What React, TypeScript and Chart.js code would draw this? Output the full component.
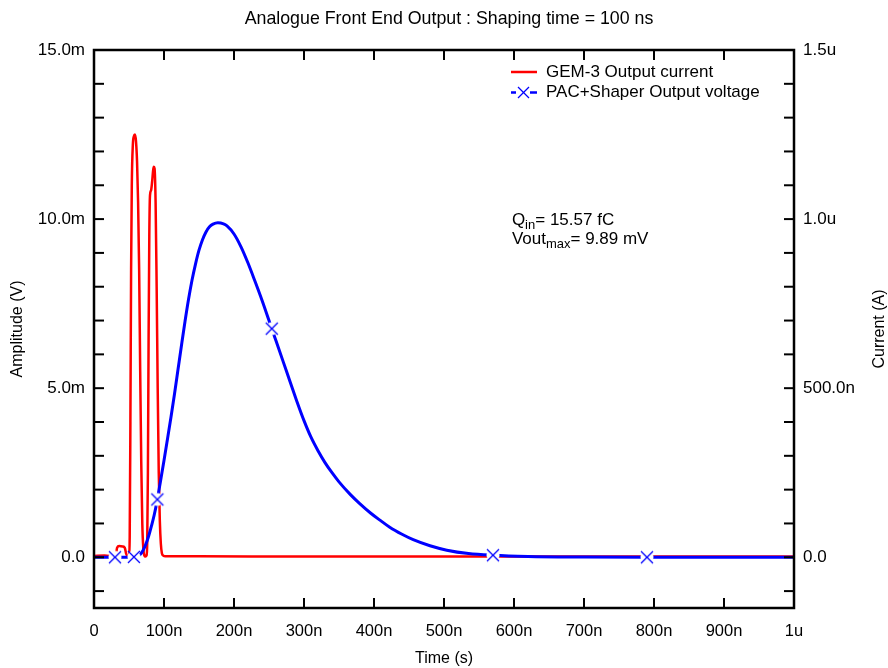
import React, { useEffect, useRef } from "react";
import { Chart, registerables } from "chart.js";

Chart.register(...registerables);

// ---------- data ----------
// time in ns, GEM-3 output current in nA (right axis)
const redTime = [0, 15, 22, 28, 31, 33, 36, 41, 44, 46, 48, 50, 51, 52, 53, 54, 55.5, 57, 58.5, 60, 61.5, 63, 64.5, 66, 67.5, 69, 70.5, 72, 73.5, 75, 76, 77, 78, 79, 80, 81.5, 83, 84.5, 85.5, 86.5, 88, 89.5, 91, 92.5, 94, 95.5, 97, 99, 102, 150, 300, 500, 800, 1000];
const redCurrent = [4, 5, 4, 2, 5, 28, 33, 32, 28, 10, 3, 5, 60, 400, 850, 1100, 1220, 1245, 1250, 1230, 1170, 1050, 850, 550, 280, 100, 25, 5, 2, 5, 40, 250, 650, 950, 1070, 1085, 1110, 1145, 1155, 1150, 1050, 800, 500, 250, 110, 40, 12, 5, 3, 3, 2, 2, 2, 2];

// time in ns, PAC+Shaper output voltage in mV (left axis)
const blueTime = [0, 10, 20, 30, 40, 50, 57, 62, 66, 70, 74, 78, 82, 86, 90.5, 95, 100, 105, 110, 115, 120, 125, 130, 135, 140, 145, 150, 155, 160, 165, 170, 177, 185, 190, 200, 210, 220, 230, 240, 250, 254, 260, 270, 280, 290, 300, 310, 320, 330, 340, 350, 366, 380, 395, 409, 423, 440, 456, 480, 504, 535, 570, 620, 700, 790, 900, 1000];
const blueVoltage = [0, 0, 0, 0, 0, 0, 0.01, 0.03, 0.08, 0.2, 0.38, 0.62, 0.92, 1.25, 1.71, 2.25, 2.86, 3.5, 4.15, 4.83, 5.55, 6.27, 6.97, 7.62, 8.19, 8.67, 9.08, 9.39, 9.62, 9.77, 9.85, 9.89, 9.86, 9.8, 9.56, 9.18, 8.7, 8.16, 7.6, 7.0, 6.76, 6.4, 5.8, 5.2, 4.6, 4.04, 3.55, 3.15, 2.8, 2.5, 2.23, 1.86, 1.58, 1.31, 1.09, 0.88, 0.68, 0.52, 0.34, 0.21, 0.11, 0.06, 0.025, 0.008, 0, 0, 0];
const blueMarkerTimes = [30, 57, 90.5, 254, 570, 790];

// ---------- ticks ----------
const xTickValues = [0, 100, 200, 300, 400, 500, 600, 700, 800, 900, 1000];
const xTickLabels = ["0", "100n", "200n", "300n", "400n", "500n", "600n", "700n", "800n", "900n", "1u"];
const leftTickValues = [0, 5, 10, 15];
const leftTickLabels = ["0.0", "5.0m", "10.0m", "15.0m"];
const leftTickMarks = [-1, 0, 1, 2, 3, 4, 5, 6, 7, 8, 9, 10, 11, 12, 13, 14];
const rightTickValues = [0, 500, 1000, 1500];
const rightTickLabels = ["0.0", "500.0n", "1.0u", "1.5u"];
const rightTickMarks = [-100, 0, 100, 200, 300, 400, 500, 600, 700, 800, 900, 1000, 1100, 1200, 1300, 1400];

// ---------- text ----------
const titleText = "Analogue Front End Output : Shaping time = 100 ns";
const xTitle = "Time (s)";
const leftTitle = "Amplitude (V)";
const rightTitle = "Current (A)";
const legendRed = "GEM-3 Output current";
const legendBlue = "PAC+Shaper Output voltage";
const annot1 = ["Q", "in", "= 15.57 fC"];
const annot2 = ["Vout", "max", "= 9.89 mV"];

const FONT = '"Liberation Sans", Arial, sans-serif';
const BLUE = "#0000ff";
const RED = "#ff0000";

function makeMarker(): HTMLCanvasElement {
  const c = document.createElement("canvas");
  c.width = 16;
  c.height = 16;
  const g = c.getContext("2d")!;
  g.fillStyle = "#ffffff";
  g.beginPath();
  g.arc(8, 8, 6.5, 0, Math.PI * 2);
  g.fill();
  g.strokeStyle = BLUE;
  g.lineWidth = 1.3;
  g.beginPath();
  g.moveTo(2, 2);
  g.lineTo(14, 14);
  g.moveTo(14, 2);
  g.lineTo(2, 14);
  g.stroke();
  return c;
}

const decorPlugin = {
  id: "decor",
  afterDraw(chart: any) {
    const { ctx, chartArea, scales } = chart;
    const { left, right, top, bottom } = chartArea;
    const TICK = 10;
    ctx.save();
    ctx.strokeStyle = "#000";
    ctx.lineWidth = 2;
    const line = (x1: number, y1: number, x2: number, y2: number) => {
      ctx.beginPath();
      ctx.moveTo(x1, y1);
      ctx.lineTo(x2, y2);
      ctx.stroke();
    };
    xTickValues.forEach((v) => {
      const x = scales.x.getPixelForValue(v);
      line(x, bottom, x, bottom - TICK);
      line(x, top, x, top + TICK);
    });
    leftTickMarks.forEach((v) => {
      const y = scales.yV.getPixelForValue(v);
      line(left, y, left + TICK, y);
    });
    rightTickMarks.forEach((v) => {
      const y = scales.yI.getPixelForValue(v);
      line(right, y, right - TICK, y);
    });
    ctx.lineWidth = 2.5;
    ctx.strokeRect(left, top, right - left, bottom - top);

    // title
    ctx.fillStyle = "#000";
    ctx.textAlign = "center";
    ctx.textBaseline = "middle";
    ctx.font = `17.8px ${FONT}`;
    ctx.fillText(titleText, (left + right) / 2 + 5, top - 30.5);

    // axis titles
    ctx.font = `16px ${FONT}`;
    ctx.fillText(xTitle, (left + right) / 2, bottom + 51);
    const midY = (top + bottom) / 2;
    ctx.save();
    ctx.translate(18, midY);
    ctx.rotate(-Math.PI / 2);
    ctx.fillText(leftTitle, 0, 0);
    ctx.restore();
    ctx.save();
    ctx.translate(right + 86, midY);
    ctx.rotate(-Math.PI / 2);
    ctx.fillText(rightTitle, 0, 0);
    ctx.restore();

    // legend
    const lx = left + 417;
    const ly1 = top + 22;
    const ly2 = top + 42.5;
    ctx.lineWidth = 2.5;
    ctx.strokeStyle = RED;
    line(lx, ly1, lx + 26, ly1);
    ctx.strokeStyle = BLUE;
    line(lx, ly2, lx + 5, ly2);
    line(lx + 19, ly2, lx + 26, ly2);
    ctx.lineWidth = 1.3;
    line(lx + 7, ly2 - 5.5, lx + 18, ly2 + 5.5);
    line(lx + 18, ly2 - 5.5, lx + 7, ly2 + 5.5);
    ctx.font = `17px ${FONT}`;
    ctx.textAlign = "left";
    ctx.fillStyle = "#000";
    ctx.fillText(legendRed, lx + 35, ly1);
    ctx.fillText(legendBlue, lx + 35, ly2);

    // annotation (anchored at data coordinates)
    const ax = scales.x.getPixelForValue(597);
    const ay1 = scales.yV.getPixelForValue(9.95);
    const ay2 = ay1 + 19;
    const drawSub = (parts: string[], y: number) => {
      let x = ax;
      ctx.font = `17px ${FONT}`;
      ctx.fillText(parts[0], x, y);
      x += ctx.measureText(parts[0]).width;
      ctx.font = `13px ${FONT}`;
      ctx.fillText(parts[1], x, y + 5);
      x += ctx.measureText(parts[1]).width;
      ctx.font = `17px ${FONT}`;
      ctx.fillText(parts[2], x, y);
    };
    drawSub(annot1, ay1);
    drawSub(annot2, ay2);
    ctx.restore();
  },
};

export default function App() {
  const ref = useRef<HTMLCanvasElement>(null);
  useEffect(() => {
    if (!ref.current) return;
    Chart.defaults.font.family = FONT;
    Chart.defaults.color = "#000";
    const marker = makeMarker();
    const blueData = blueTime.map((t, i) => ({ x: t, y: blueVoltage[i] }));
    const redData = redTime.map((t, i) => ({ x: t, y: redCurrent[i] }));
    const isMarker = (i: number) => blueMarkerTimes.includes(blueTime[i]);
    const chart = new Chart(ref.current, {
      type: "line",
      data: {
        datasets: [
          {
            label: legendBlue,
            data: blueData,
            yAxisID: "yV",
            borderColor: BLUE,
            borderWidth: 3,
            cubicInterpolationMode: "monotone",
            pointRadius: blueTime.map((_, i) => (isMarker(i) ? 6 : 0)),
            pointStyle: blueTime.map((_, i) => (isMarker(i) ? marker : "circle")) as any,
            fill: false,
          },
          {
            label: legendRed,
            data: redData,
            yAxisID: "yI",
            borderColor: RED,
            borderWidth: 2.5,
            cubicInterpolationMode: "monotone",
            pointRadius: 0,
            fill: false,
          },
        ],
      },
      options: {
        animation: false,
        responsive: false,
        events: [],
        layout: { padding: { top: 50 } },
        plugins: {
          legend: { display: false },
          tooltip: { enabled: false },
          title: { display: false },
        },
        scales: {
          x: {
            type: "linear",
            position: "bottom",
            min: 0,
            max: 1000,
            grid: { display: false, drawTicks: false },
            border: { display: false },
            ticks: {
              color: "#000",
              font: { size: 16.5 },
              padding: 14,
              maxRotation: 0,
              autoSkip: false,
              callback: (v: any) => {
                const i = xTickValues.indexOf(Number(v));
                return i >= 0 ? xTickLabels[i] : "";
              },
            },
            afterBuildTicks: (s: any) => {
              s.ticks = xTickValues.map((v) => ({ value: v }));
            },
            afterFit: (s: any) => {
              s.height = 60;
            },
          },
          yV: {
            type: "linear",
            position: "left",
            min: -1.5,
            max: 15,
            grid: { display: false, drawTicks: false },
            border: { display: false },
            ticks: {
              color: "#000",
              font: { size: 17 },
              padding: 9,
              callback: (v: any) => {
                const i = leftTickValues.indexOf(Number(v));
                return i >= 0 ? leftTickLabels[i] : "";
              },
            },
            afterBuildTicks: (s: any) => {
              s.ticks = leftTickValues.map((v) => ({ value: v }));
            },
            afterFit: (s: any) => {
              s.width = 94;
            },
          },
          yI: {
            type: "linear",
            position: "right",
            min: -150,
            max: 1500,
            grid: { display: false, drawTicks: false },
            border: { display: false },
            ticks: {
              color: "#000",
              font: { size: 17 },
              padding: 9,
              callback: (v: any) => {
                const i = rightTickValues.indexOf(Number(v));
                return i >= 0 ? rightTickLabels[i] : "";
              },
            },
            afterBuildTicks: (s: any) => {
              s.ticks = rightTickValues.map((v) => ({ value: v }));
            },
            afterFit: (s: any) => {
              s.width = 94;
            },
          },
        },
      },
      plugins: [decorPlugin],
    } as any);
    return () => chart.destroy();
  }, []);

  return (
    <div style={{ position: "fixed", left: 0, top: 0, width: 888, height: 668, background: "#fff" }}>
      <canvas ref={ref} width={888} height={668} style={{ width: 888, height: 668 }} />
    </div>
  );
}
